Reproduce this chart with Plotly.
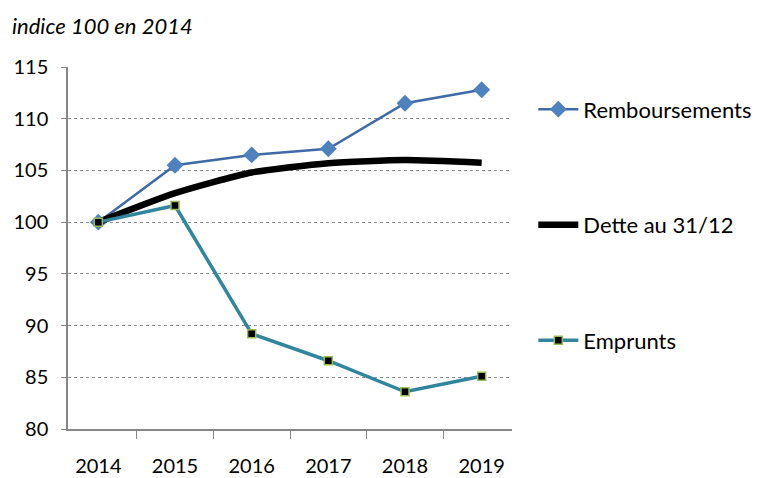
import plotly.graph_objects as go

annees = ["2014", "2015", "2016", "2017", "2018", "2019"]
remboursements = [100, 105.5, 106.5, 107.1, 111.5, 112.8]
dette = [100, 102.8, 104.8, 105.7, 106.0, 105.75]
emprunts = [100, 101.6, 89.2, 86.6, 83.6, 85.1]

police = "Lato, 'Open Sans', sans-serif"

fig = go.Figure()
fig.add_trace(go.Scatter(
    x=annees, y=remboursements, name="Remboursements", legendgroup="a",
    mode="lines+markers",
    line=dict(color="#3F6AA5", width=2.5),
    marker=dict(symbol="diamond", size=13, color="#4F81BD", line=dict(color="#4F81BD", width=0)),
))
fig.add_trace(go.Scatter(
    x=annees, y=dette, name="Dette au 31/12", legendgroup="b",
    mode="lines",
    line=dict(color="black", width=6.5, shape="spline", smoothing=0.6),
))
fig.add_trace(go.Scatter(
    x=annees, y=emprunts, name="Emprunts", legendgroup="c",
    mode="lines+markers",
    line=dict(color="#31859C", width=3.5),
    marker=dict(symbol="square", size=8, color="black", line=dict(color="#9BBB59", width=1.5)),
))

# la page est décalée de 8px (marge du body), on compense
fig.update_layout(
    width=769, height=478,
    margin=dict(l=60, r=265, t=59, b=57, autoexpand=False),
    paper_bgcolor="white", plot_bgcolor="white",
    font=dict(family=police, size=20, color="black"),
    showlegend=True,
    legend=dict(x=1.048, y=0.941, xanchor="left", yanchor="top",
                tracegroupgap=84, font=dict(size=22), itemwidth=40),
    annotations=[dict(text="<i>indice 100 en 2014</i>", xref="paper", yref="paper",
                      x=-0.1306, y=1.116, xanchor="left", yanchor="middle",
                      showarrow=False, font=dict(size=22))],
)
fig.update_xaxes(type="category", showgrid=False, showline=True, linecolor="#868686",
                 linewidth=1.5, ticks="outside", tickson="boundaries", ticklen=8,
                 tickcolor="#868686", ticklabelstandoff=18, fixedrange=True)
fig.update_yaxes(range=[80, 115], dtick=5, showgrid=True, gridcolor="#8c8c8c",
                 griddash="dot", gridwidth=1, showline=True, linecolor="#868686",
                 linewidth=1.5, ticks="outside", ticklen=5, tickcolor="#868686",
                 ticklabelstandoff=9, zeroline=False)

fig.write_html("out.html")
